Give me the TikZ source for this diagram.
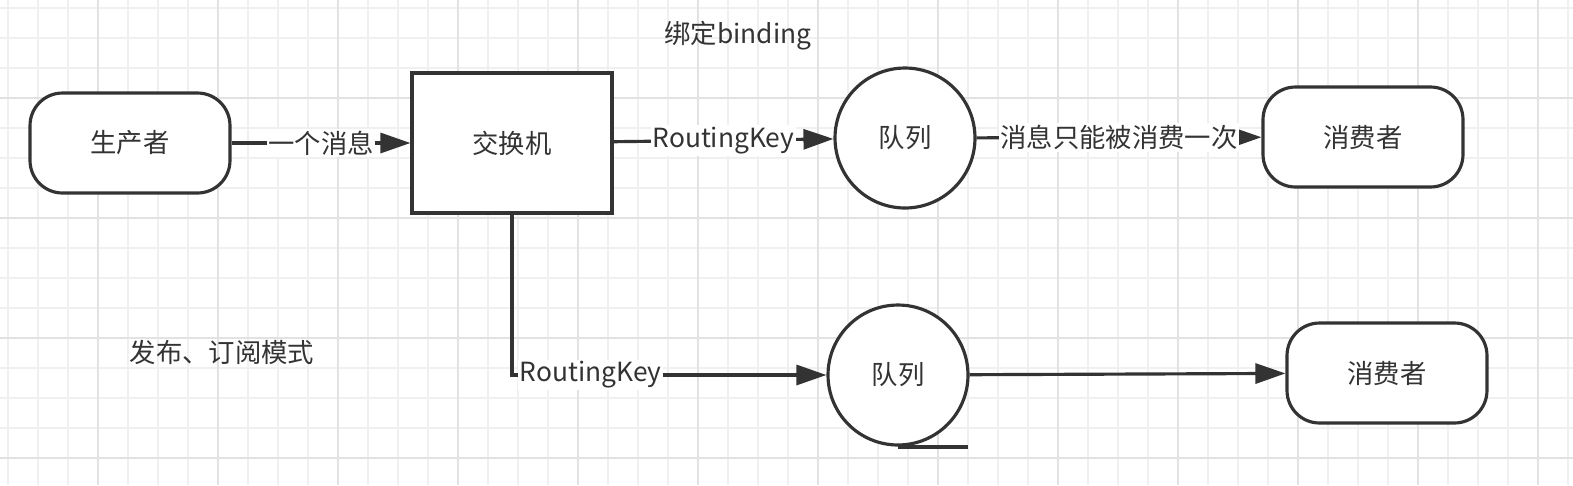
\documentclass[tikz,border=0pt]{standalone}
\usepackage{fontspec}
\setmainfont{Noto Sans CJK SC}
\usepackage{tikz}
\usetikzlibrary{positioning, arrows.meta, calc}
\definecolor{inkgray}{HTML}{333333}
\definecolor{gridminor}{HTML}{F0F0F0}
\definecolor{gridmajor}{HTML}{E2E2E2}

\begin{document}
\begin{tikzpicture}[x=0.02cm,y=-0.02cm,
  every node/.style={font=\fontsize{15}{18}\selectfont,text=inkgray},
  endpoint/.style={draw=inkgray,line width=1.8pt,rounded corners=0.65cm,fill=white,minimum width=4cm,minimum height=2cm},
  switchbox/.style={draw=inkgray,line width=1.8pt,fill=white,minimum width=4cm,minimum height=2.8cm},
  queuenode/.style={draw=inkgray,line width=1.8pt,circle,fill=white,minimum size=2.8cm},
  link/.style={draw=inkgray,line width=1.8pt,-{Triangle[length=0.6cm,width=0.4cm]}},
  linklabel/.style={fill=white,inner sep=1pt}]
\useasboundingbox[fill=white] (0,0) rectangle (1573,485);

% background grid
\foreach \gx in {8,38,...,1568} \draw[gridminor,line width=0.6pt] (\gx,0) -- (\gx,485);
\foreach \gy in {8,38,...,478} \draw[gridminor,line width=0.6pt] (0,\gy) -- (1573,\gy);
\foreach \gx in {98,218,...,1538} \draw[gridmajor,line width=0.7pt] (\gx,0) -- (\gx,485);
\foreach \gy in {98,218,338,458} \draw[gridmajor,line width=0.7pt] (0,\gy) -- (1573,\gy);

\node[endpoint] (producer) at (130,143) {生产者};
\node[switchbox] (exchange) at (512,143) {交换机};
\node[queuenode] (queue1) at (905,138) {队列};
\node[endpoint] (consumer1) at (1363,137) {消费者};
\node[queuenode] (queue2) at (898,375) {队列};
\node[endpoint] (consumer2) at (1387,373) {消费者};

\node (binding) at (738,36) {绑定binding};
\node (pattern) at (222,352) {发布、订阅模式};

\draw[link] (producer) -- node[linklabel] {一个消息} (exchange);
\draw[link] (exchange) -- node[linklabel] {RoutingKey} (queue1);
\draw[link] (queue1) -- node[linklabel] {消息只能被消费一次} (consumer1);
\draw[link] (exchange.south) |- node[linklabel,pos=0.625] {RoutingKey} (queue2.west);
\draw[link] (queue2) -- (consumer2);

\coordinate (q2tail) at ([xshift=1.4cm]queue2.south);
\draw[draw=inkgray,line width=2.2pt] (queue2.south) -- (q2tail);
\end{tikzpicture}
\end{document}
